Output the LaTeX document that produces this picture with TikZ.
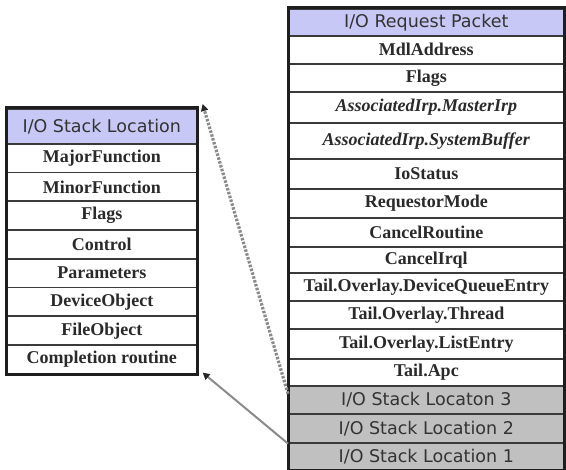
\documentclass[tikz,border=0pt]{standalone}
\usepackage{fontspec}
\setmainfont{Liberation Serif}
\newfontfamily\hdrfont{DejaVu Sans}
\usetikzlibrary{arrows.meta}
\definecolor{hdrfill}{HTML}{C8C8F6}
\definecolor{slfill}{HTML}{C0C0C0}
\definecolor{edge}{HTML}{1E1E1E}
\definecolor{sep}{HTML}{3A3A3A}
\definecolor{txt}{HTML}{2A2A2A}
\definecolor{linkgray}{HTML}{8A8A8A}
\tikzset{
  cell/.style={draw=sep, line width=1.6pt, inner sep=0pt, anchor=north west, text=txt},
  fld/.style={cell, fill=white, font=\fontsize{18}{18}\selectfont\bfseries},
  hdr/.style={cell, fill=hdrfill, font=\hdrfont\fontsize{17.5}{18}\selectfont, text=black!80},
  slrow/.style={cell, fill=slfill, font=\hdrfont\fontsize{17.5}{18}\selectfont, text=black!80},
  rw/.style={minimum width=275pt},
  lw/.style={minimum width=190pt},
  outer/.style={draw=edge, line width=3pt},
  linkarrow/.style={-{Triangle[length=7pt,width=7pt,fill=black!85,color=black!85]}, color=linkgray, line width=2.4pt},
}
\begin{document}
\begin{tikzpicture}[x=1pt,y=-1pt]
\useasboundingbox (0,0) rectangle (566,470);
% Right box: I/O Request Packet
\node[hdr,rw,minimum height=27pt] (irp) at (288,8) {I/O Request Packet};
\node[fld,rw,minimum height=28pt] (mdl) at (288,35) {MdlAddress};
\node[fld,rw,minimum height=28pt] (flg) at (288,63) {Flags};
\node[fld,rw,minimum height=31pt] (mst) at (288,91) {\itshape AssociatedIrp.MasterIrp};
\node[fld,rw,minimum height=36pt] (sys) at (288,122) {\itshape AssociatedIrp.SystemBuffer};
\node[fld,rw,minimum height=30pt] (ios) at (288,158) {IoStatus};
\node[fld,rw,minimum height=29pt] (rqm) at (288,188) {RequestorMode};
\node[fld,rw,minimum height=29pt] (cnr) at (288,217) {CancelRoutine};
\node[fld,rw,minimum height=26pt] (cni) at (288,246) {CancelIrql};
\node[fld,rw,minimum height=28pt] (dqe) at (288,272) {Tail.Overlay.DeviceQueueEntry};
\node[fld,rw,minimum height=28pt] (thr) at (288,300) {Tail.Overlay.Thread};
\node[fld,rw,minimum height=30pt] (lse) at (288,328) {Tail.Overlay.ListEntry};
\node[fld,rw,minimum height=27pt] (apc) at (288,358) {Tail.Apc};
\node[slrow,rw,minimum height=28pt] (slc) at (288,385) {I/O Stack Locaton 3};
\node[slrow,rw,minimum height=29pt] (slb) at (288,413) {I/O Stack Location 2};
\node[slrow,rw,minimum height=27pt] (sla) at (288,442) {I/O Stack Location 1};
\draw[outer] (irp.north west) rectangle (sla.south east);
% Left box: I/O Stack Location
\node[hdr,lw,minimum height=35pt] (isl) at (6,108) {I/O Stack Location};
\node[fld,lw,minimum height=28.75pt] (maj) at (6,143) {MajorFunction};
\node[fld,lw,minimum height=28.75pt] (mnr) at (6,171.75) {MinorFunction};
\node[fld,lw,minimum height=28.75pt] (lfl) at (6,200.5) {Flags};
\node[fld,lw,minimum height=28.75pt] (ctl) at (6,229.25) {Control};
\node[fld,lw,minimum height=28.75pt] (par) at (6,258) {Parameters};
\node[fld,lw,minimum height=28.75pt] (dev) at (6,286.75) {DeviceObject};
\node[fld,lw,minimum height=28.75pt] (fil) at (6,315.5) {FileObject};
\node[fld,lw,minimum height=28.75pt] (cmp) at (6,344.25) {Completion routine};
\draw[outer] (isl.north west) rectangle (cmp.south east);
% Connectors
\draw[linkarrow, line width=3.2pt, dash pattern=on 2.5pt off 1.5pt] ([yshift=6pt]slc.west) -- ([shift={(5pt,4pt)}]isl.north east);
\draw[linkarrow, line width=2pt] (slb.south west) -- ([shift={(5pt,2pt)}]cmp.south east);
\end{tikzpicture}
\end{document}
